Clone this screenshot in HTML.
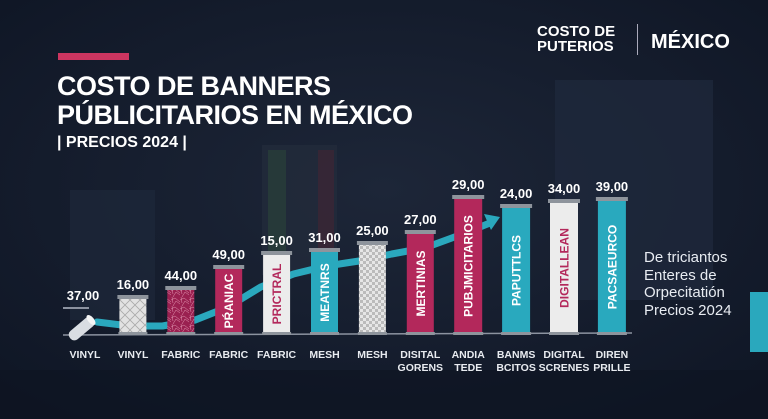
<!DOCTYPE html>
<html><head><meta charset="utf-8">
<style>
html,body{margin:0;padding:0}
body{width:768px;height:419px;overflow:hidden;background:#131b2b;font-family:"Liberation Sans",sans-serif;color:#fff;position:relative}
.abs{position:absolute}
</style></head>
<body>
<svg class="abs" style="left:0;top:0" width="768" height="419">
  <defs>
    <radialGradient id="g1" cx="0.5" cy="0.45" r="0.7"><stop offset="0" stop-color="#1d2638"/><stop offset="1" stop-color="#0f1625"/></radialGradient>
    <pattern id="check" width="6" height="6" patternUnits="userSpaceOnUse"><rect width="6" height="6" fill="#e6e6e6"/><rect width="3" height="3" fill="#bbb"/><rect x="3" y="3" width="3" height="3" fill="#bbb"/></pattern>
    <pattern id="cross" width="10" height="10" patternUnits="userSpaceOnUse"><rect width="10" height="10" fill="#e2e2e2"/><path d="M0 0L10 10M10 0L0 10" stroke="#aaa" stroke-width="0.8"/></pattern>
    <pattern id="lace" width="9" height="9" patternUnits="userSpaceOnUse"><rect width="9" height="9" fill="#9a2050"/><path d="M0 3L4 1L9 5M2 9L5 4L9 7M1 0L2 6" stroke="#e59ab5" stroke-width="0.5" fill="none"/></pattern>
  </defs>
  <rect width="768" height="419" fill="url(#g1)"/>
  <rect x="70" y="190" width="85" height="130" fill="#1e283a" opacity="0.7"/>
  <rect x="262" y="145" width="75" height="130" fill="#232c3c" opacity="0.7"/>
  <rect x="268" y="150" width="18" height="110" fill="#2b4a3a" opacity="0.5"/>
  <rect x="318" y="150" width="16" height="110" fill="#4a2432" opacity="0.5"/>
  <rect x="555" y="80" width="158" height="220" fill="#1f2a3d" opacity="0.7"/>
  <rect x="0" y="370" width="768" height="49" fill="#0e1421" opacity="0.6"/>
</svg>

<div class="abs" style="left:58px;top:53px;width:71px;height:7px;background:#cc3560"></div>
<div class="abs" style="left:57px;top:72px;font-size:27px;font-weight:bold;line-height:29px;letter-spacing:-0.5px">COSTO DE BANNERS<br>PÚBLICITARIOS EN MÉXICO</div>
<div class="abs" style="left:57px;top:134px;font-size:16px;font-weight:bold">| PRECIOS 2024 |</div>

<div class="abs" style="left:537px;top:24px;font-size:15px;font-weight:bold;line-height:15px">COSTO DE<br>PUTERIOS</div>
<div class="abs" style="left:637px;top:24px;width:1px;height:31px;background:#aab"></div>
<div class="abs" style="left:651px;top:31px;font-size:20px;font-weight:bold">MÉXICO</div>

<div class="abs" style="left:644px;top:249px;font-size:15px;line-height:17.5px;color:#e8ecf2">De triciantos<br>Enteres de<br>Orpecitatión<br>Precios 2024</div>
<div class="abs" style="left:750px;top:292px;width:18px;height:60px;background:#2aa8bd"></div>

<svg id="chart" class="abs" style="left:0;top:0" width="768" height="419"></svg>

<script>
const categories1 = ["VINYL","VINYL","FABRIC","FABRIC","FABRIC","MESH","MESH","DISITAL","ANDIA","BANMS","DIGITAL","DIREN"];
const categories2 = ["","","","","","","","GORENS","TEDE","BCITOS","SCRENES","PRILLE"];
const priceLabels = ["37,00","16,00","44,00","49,00","15,00","31,00","25,00","27,00","29,00","24,00","34,00","39,00"];
const bannerHeights = [27, 38, 47, 68, 82, 85, 92, 103, 138, 129, 134, 136];
const bannerText = ["","","","PŔANIAC","PRICTRAL","MEATNRS","","MERTINIAS","PUBJMICITARIOS","PAPUTTLCS","DIGITALLEAN","PACSAEURCO"];
const bannerStyle = ["roll","cross","lace","crimson","white","teal","check","crimson","crimson","teal","white","teal"];
const trendValues = [13, 9, 9, 15, 28, 48, 61, 69, 74, 81, 87, 99, 112];

const svg = document.getElementById('chart');
const NS = 'http://www.w3.org/2000/svg';
const baseY = 335, x0 = 85, step = 47.9;
const xScale = i => x0 + i * step;
const yScale = v => baseY - v;
function mk(tag, attrs, parent){const e=document.createElementNS(NS,tag);for(const k in attrs)e.setAttribute(k,attrs[k]);(parent||svg).appendChild(e);return e;}

const axis = mk('line',{x1:63,y1:baseY,x2:632,y2:baseY-2,stroke:'#8c93a0','stroke-width':1.5});



const tx = i => 97 + i * 32.75;
let d = '';
trendValues.forEach((v,i)=>{ d += (i? ' L':'M') + tx(i) + ' ' + yScale(v); });
const trend = mk('path',{d:d,stroke:'#2aa8bd','stroke-width':7,fill:'none','stroke-linejoin':'round','stroke-linecap':'round'});


const last = trendValues.length-1;
const ax = tx(last), ay = yScale(trendValues[last]);
const arrow = mk('polygon',{points:`${ax+10},${ay-6} ${ax-6},${ay-9} ${ax+1},${ay+7}`,fill:'#2aa8bd'});



const fills = {crimson:'#b3285b',white:'#ececec',teal:'#29a9be',check:'url(#check)',cross:'url(#cross)',lace:'url(#lace)'};
const textCol = {crimson:'#fff',white:'#b3285b',teal:'#fff'};

categories1.forEach((c,i)=>{
  const x = xScale(i);
  const h = bannerHeights[i];
  const top = yScale(h);
  const w = i>=8 ? 28 : 27;
  const g = mk('g',{});
  
  
  if (bannerStyle[i]==='roll'){
    mk('line',{x1:x-22,y1:top,x2:x+4,y2:top,stroke:'#8c93a0','stroke-width':2},g);
    mk('rect',{x:x-18,y:baseY-12,width:30,height:11,rx:5,fill:'#d9dde2',transform:`rotate(-40 ${x-3} ${baseY-6})`},g);
    mk('ellipse',{cx:x+6,cy:baseY-15,rx:3,ry:6,fill:'#f5f5f5',transform:`rotate(-40 ${x+6} ${baseY-15})`},g);
  } else {
    mk('rect',{x:x-w/2,y:top,width:w,height:baseY-top,fill:fills[bannerStyle[i]]},g);
    mk('rect',{x:x-w/2-2,y:top-2,width:w+4,height:4,fill:'#8e949c'},g);
    mk('rect',{x:x-w/2-1,y:baseY-3,width:w+2,height:3,fill:'#8e949c'},g);
    if (bannerText[i]){
      const t = mk('text',{x:0,y:0,'font-size':12,'font-weight':'bold',fill:textCol[bannerStyle[i]],'text-anchor':'middle',transform:`translate(${x+4.5},${(top+baseY)/2}) rotate(-90)`},g);
      t.textContent = bannerText[i];
      
      
    }
  }
  const v = mk('text',{x:x-(i===0?2:0),y:top-8,'font-size':13,'font-weight':'bold',fill:'#fff','text-anchor':'middle'});
  v.textContent = priceLabels[i];
  
  
  const l = mk('text',{x:x,y:358,'font-size':10.5,'font-weight':'bold',fill:'#e8ebf0','text-anchor':'middle'});
  l.textContent = c;
  
  
  if (categories2[i]){
    const l2 = mk('text',{x:x,y:371,'font-size':10.5,'font-weight':'bold',fill:'#e8ebf0','text-anchor':'middle'});
    l2.textContent = categories2[i];
    
    
  }
});
</script>
</body></html>
